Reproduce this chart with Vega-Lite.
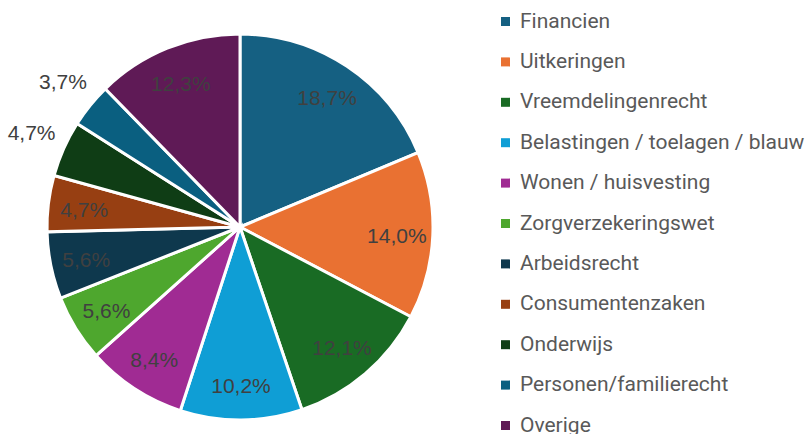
{
  "$schema": "https://vega.github.io/schema/vega-lite/v6.json",
  "width": 480,
  "height": 414,
  "autosize": "none",
  "padding": {"left": 0, "top": 20, "right": 325, "bottom": 0},
  "background": "white",
  "config": {
    "view": {"stroke": null},
    "locale": {"number": {"decimal": ",", "thousands": ".", "grouping": [3], "currency": ["€", ""]}}
  },
  "data": {
    "values": [
      {"cat": "Financien", "share": 0.187},
      {"cat": "Uitkeringen", "share": 0.140},
      {"cat": "Vreemdelingenrecht", "share": 0.121},
      {"cat": "Belastingen / toelagen / blauw", "share": 0.102},
      {"cat": "Wonen / huisvesting", "share": 0.084},
      {"cat": "Zorgverzekeringswet", "share": 0.056},
      {"cat": "Arbeidsrecht", "share": 0.056},
      {"cat": "Consumentenzaken", "share": 0.047},
      {"cat": "Onderwijs", "share": 0.047},
      {"cat": "Personen/familierecht", "share": 0.037},
      {"cat": "Overige", "share": 0.123}
    ]
  },
  "transform": [{"window": [{"op": "row_number", "as": "rank"}]}],
  "encoding": {
    "theta": {"field": "share", "type": "quantitative", "stack": true},
    "order": {"field": "rank", "type": "quantitative"}
  },
  "layer": [
    {
      "mark": {"type": "arc", "outerRadius": 193, "stroke": "white", "strokeWidth": 3},
      "encoding": {
        "color": {
          "field": "cat",
          "type": "nominal",
          "scale": {
            "domain": ["Financien", "Uitkeringen", "Vreemdelingenrecht", "Belastingen / toelagen / blauw", "Wonen / huisvesting", "Zorgverzekeringswet", "Arbeidsrecht", "Consumentenzaken", "Onderwijs", "Personen/familierecht", "Overige"],
            "range": ["#156082", "#E97132", "#196B24", "#0F9ED5", "#A02B93", "#4EA72E", "#0E384D", "#973F12", "#0F3D15", "#0A5F80", "#5F1A56"]
          },
          "legend": {
            "title": null,
            "orient": "none",
            "legendX": 495,
            "legendY": -9,
            "symbolType": "square",
            "symbolSize": 81,
            "symbolStrokeWidth": 0,
            "labelFont": "Roboto",
            "labelFontSize": 21,
            "labelColor": "#595959",
            "labelLimit": 400,
            "labelOffset": 4,
            "rowPadding": 18.4,
            "symbolOffset": 0
          }
        }
      }
    },
    {
      "mark": {"type": "text", "radius": 157, "dy": 3, "font": "Liberation Sans", "fontSize": 21, "color": "#404040"},
      "encoding": {
        "text": {"field": "share", "type": "quantitative", "format": ".1%"},
        "opacity": {"condition": {"test": "datum.cat === 'Onderwijs' || datum.cat === 'Personen/familierecht'", "value": 0}, "value": 1}
      }
    },
    {
      "mark": {"type": "text", "radius": 228, "font": "Liberation Sans", "fontSize": 21, "color": "#404040"},
      "encoding": {
        "text": {"field": "share", "type": "quantitative", "format": ".1%"},
        "opacity": {"condition": {"test": "datum.cat === 'Onderwijs' || datum.cat === 'Personen/familierecht'", "value": 1}, "value": 0}
      }
    }
  ]
}
